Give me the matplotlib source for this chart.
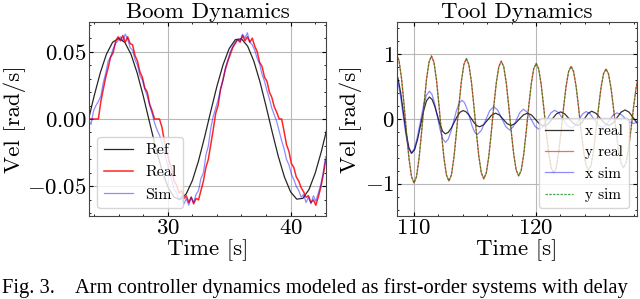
import numpy as np
import matplotlib.pyplot as plt
from matplotlib.ticker import AutoMinorLocator

plt.rcParams['font.family'] = 'serif'
plt.rcParams['font.serif'] = ['cmr10']
plt.rcParams['mathtext.fontset'] = 'cm'
plt.rcParams['axes.formatter.use_mathtext'] = True

# ---- Boom dynamics (left) ----
t_ref = np.arange(23.5, 43.01, 0.5)
v_ref = [-0.0019, 0.0171, 0.0343, 0.0481, 0.0569, 0.0600, 0.0569, 0.0481, 0.0343, 0.0171,
         -0.0019, -0.0207, -0.0374, -0.0503, -0.0580, -0.0599, -0.0556, -0.0457, -0.0311, -0.0133,
         0.0058, 0.0243, 0.0403, 0.0523, 0.0589, 0.0595, 0.0541, 0.0431, 0.0278, 0.0096,
         -0.0096, -0.0278, -0.0431, -0.0541, -0.0595, -0.0589, -0.0523, -0.0403, -0.0243, -0.0057]

t_meas = np.linspace(23.55, 42.85, 98)
v_real = [0.0, 0.0, 0.0, 0.0, 0.0, 0.013, 0.022, 0.031, 0.038, 0.046,
          0.049, 0.057, 0.061, 0.058, 0.062, 0.057, 0.061, 0.056, 0.055, 0.047,
          0.043, 0.035, 0.031, 0.023, 0.020, 0.011, 0.006, 0.0, 0.0, 0.0,
          -0.006, -0.016, -0.024, -0.031, -0.037, -0.046, -0.049, -0.055, -0.053, -0.059,
          -0.057, -0.062, -0.058, -0.063, -0.059, -0.060, -0.053, -0.046, -0.036, -0.030,
          -0.019, -0.008, 0.004, 0.010, 0.022, 0.029, 0.037, 0.043, 0.048, 0.053,
          0.056, 0.059, 0.057, 0.062, 0.058, 0.061, 0.057, 0.060, 0.054, 0.050,
          0.042, 0.039, 0.031, 0.028, 0.020, 0.016, 0.009, 0.005, 0.0, 0.0,
          -0.009, -0.019, -0.024, -0.033, -0.036, -0.043, -0.046, -0.051, -0.054, -0.058,
          -0.057, -0.062, -0.060, -0.064, -0.058, -0.051, -0.042, -0.031]
v_sim = [-0.001, -0.004, 0.006, 0.010, 0.013, 0.017, 0.027, 0.034, 0.043, 0.046,
         0.052, 0.056, 0.058, 0.061, 0.058, 0.063, 0.059, 0.053, 0.051, 0.044,
         0.040, 0.032, 0.029, 0.022, 0.017, 0.010, 0.004, -0.003, -0.008, -0.012,
         -0.017, -0.025, -0.032, -0.039, -0.045, -0.052, -0.055, -0.060, -0.057, -0.063,
         -0.059, -0.064, -0.058, -0.062, -0.056, -0.053, -0.044, -0.040, -0.027, -0.020,
         -0.007, 0.002, 0.008, 0.014, 0.022, 0.029, 0.038, 0.044, 0.050, 0.054,
         0.057, 0.059, 0.058, 0.063, 0.060, 0.064, 0.057, 0.055, 0.051, 0.045,
         0.041, 0.033, 0.028, 0.021, 0.015, 0.008, 0.003, -0.002, -0.009, -0.016,
         -0.022, -0.030, -0.034, -0.041, -0.045, -0.050, -0.053, -0.058, -0.056, -0.062,
         -0.058, -0.063, -0.057, -0.061, -0.055, -0.049, -0.040, -0.028]

# ---- Tool dynamics (right) ----
t_y = np.linspace(108.615, 128.361, 98)
y_real = [1.0, 0.901, 0.624, 0.223, -0.220, -0.617, -0.892, -0.99, -0.892, -0.617,
          -0.220, 0.217, 0.608, 0.878, 0.975, 0.878, 0.608, 0.217, -0.214, -0.599,
          -0.865, -0.96, -0.865, -0.599, -0.214, 0.208, 0.583, 0.842, 0.935, 0.842,
          0.583, 0.208, -0.206, -0.577, -0.833, -0.925, -0.833, -0.577, -0.206, 0.199,
          0.558, 0.806, 0.895, 0.806, 0.558, 0.199, -0.196, -0.549, -0.793, -0.88,
          -0.793, -0.549, -0.196, 0.191, 0.536, 0.775, 0.86, 0.775, 0.536, 0.191,
          -0.187, -0.524, -0.757, -0.84, -0.757, -0.524, -0.187, 0.181, 0.508, 0.734,
          0.815, 0.734, 0.508, 0.181, -0.177, -0.496, -0.716, -0.795, -0.716, -0.496,
          -0.177, 0.172, 0.483, 0.698, 0.775, 0.698, 0.483, 0.172, -0.168, -0.471,
          -0.680, -0.755, -0.680, -0.471, -0.168, 0.165, 0.461, 0.667]
y_sim = list(y_real)  # sim and real y traces coincide in the figure

t_xr = [108.5, 108.725, 108.95, 109.175, 109.4, 109.625, 109.85,
        110.092, 110.333, 110.575, 110.817, 111.058, 111.3,
        111.517, 111.733, 111.95, 112.167, 112.383, 112.6,
        112.842, 113.083, 113.325, 113.567, 113.808, 114.05,
        114.275, 114.5, 114.725, 114.95, 115.175, 115.4,
        115.725, 116.05, 116.375, 116.7, 117.013, 117.325, 117.638, 117.95,
        118.288, 118.625, 118.963, 119.3, 119.638, 119.975, 120.313, 120.65,
        120.988, 121.325, 121.663, 122.0, 122.35, 122.7, 123.05, 123.4,
        123.688, 123.975, 124.263, 124.55, 124.9, 125.25, 125.6, 125.95,
        126.28, 126.61, 126.94, 127.27, 127.603, 127.935, 128.268, 128.6]
x_real = [0.72, 0.636, 0.408, 0.095, -0.218, -0.446, -0.53,
          -0.472, -0.313, -0.095, 0.123, 0.282, 0.34,
          0.302, 0.198, 0.055, -0.088, -0.192, -0.23,
          -0.206, -0.14, -0.05, 0.04, 0.106, 0.13,
          0.113, 0.068, 0.005, -0.058, -0.103, -0.12,
          -0.089, -0.015, 0.059, 0.09, 0.062, -0.005, -0.072, -0.10,
          -0.072, -0.005, 0.062, 0.09, 0.061, -0.01, -0.081, -0.11,
          -0.078, 0.0, 0.078, 0.11, 0.079, 0.005, -0.069, -0.10,
          -0.068, 0.01, 0.088, 0.12, 0.088, 0.01, -0.068, -0.10,
          -0.065, 0.02, 0.105, 0.14, 0.105, 0.02, -0.065, -0.10]

t_xs = [108.5, 108.717, 108.933, 109.15, 109.367, 109.583, 109.8,
        110.05, 110.3, 110.55, 110.8, 111.05, 111.3,
        111.517, 111.733, 111.95, 112.167, 112.383, 112.6,
        112.825, 113.05, 113.275, 113.5, 113.725, 113.95,
        114.158, 114.367, 114.575, 114.783, 114.992, 115.2,
        115.538, 115.875, 116.213, 116.55, 116.875, 117.2, 117.525, 117.85,
        118.13, 118.41, 118.69, 118.97, 119.29, 119.61, 119.93, 120.25,
        120.568, 120.885, 121.203, 121.52, 121.865, 122.21, 122.555, 122.9,
        123.2, 123.5, 123.8, 124.1, 124.425, 124.75, 125.075, 125.4,
        125.7, 126.0, 126.3, 126.6, 126.938, 127.275, 127.613, 127.95,
        128.263, 128.575]
x_sim = [0.66, 0.58, 0.363, 0.065, -0.233, -0.45, -0.53,
         -0.466, -0.29, -0.05, 0.19, 0.366, 0.43,
         0.377, 0.233, 0.035, -0.163, -0.307, -0.36,
         -0.316, -0.198, -0.035, 0.128, 0.246, 0.29,
         0.254, 0.158, 0.025, -0.108, -0.204, -0.24,
         -0.177, -0.025, 0.127, 0.19, 0.137, 0.01, -0.117, -0.17,
         -0.123, -0.01, 0.103, 0.15, 0.105, -0.005, -0.115, -0.16,
         -0.117, -0.013, 0.092, 0.135, 0.095, -0.003, -0.1, -0.14,
         -0.103, -0.013, 0.078, 0.115, 0.079, -0.008, -0.094, -0.13,
         -0.097, -0.018, 0.062, 0.095, 0.071, 0.013, -0.046, -0.07,
         -0.048, 0.005]

fig = plt.figure(figsize=(6.4, 2.99), dpi=100)
ax1 = fig.add_axes([0.1398, 0.2776, 0.3695, 0.6488])
ax2 = fig.add_axes([0.6203, 0.2776, 0.3745, 0.6488])

ax1.plot(t_ref, v_ref, color='k', lw=0.9, alpha=0.85, label='Ref')
ax1.plot(t_meas, v_real, color='r', lw=1.1, alpha=0.85, label='Real')
ax1.plot(t_meas, v_sim, color='b', lw=0.9, alpha=0.45, label='Sim')
ax1.set_xlim(23.62, 42.88)
ax1.set_ylim(-0.072, 0.072)
ax1.set_yticks([-0.05, 0.0, 0.05])
ax1.set_xticks([30, 40])
ax1.set_title('Boom Dynamics', fontsize=16.5, pad=3)
ax1.set_xlabel('Time [s]', fontsize=16.5, labelpad=1)
ax1.set_ylabel('Vel [rad/s]', fontsize=16.5, labelpad=1)
ax1.legend(loc='lower left', fontsize=11.5, framealpha=0.8, handlelength=1.8)

ax2.plot(t_xr, x_real, color='k', lw=0.9, alpha=0.8, label='x real')
ax2.plot(t_y, y_real, color='r', lw=0.9, alpha=0.6, label='y real')
ax2.plot(t_xs, x_sim, color='b', lw=0.9, alpha=0.45, label='x sim')
ax2.plot(t_y, y_sim, color='g', lw=0.9, alpha=0.7, ls=(0, (2, 1)), label='y sim')
ax2.set_xlim(108.65, 128.22)
ax2.set_ylim(-1.5, 1.5)
ax2.set_yticks([-1, 0, 1])
ax2.set_xticks([110, 120])
ax2.set_title('Tool Dynamics', fontsize=16.5, pad=3)
ax2.set_xlabel('Time [s]', fontsize=16.5, labelpad=1)
ax2.set_ylabel('Vel [rad/s]', fontsize=16.5, labelpad=2)
ax2.legend(loc='lower right', fontsize=11, framealpha=0.8, handlelength=1.8)

for ax in (ax1, ax2):
    ax.xaxis.set_minor_locator(AutoMinorLocator())
    ax.yaxis.set_minor_locator(AutoMinorLocator())
    ax.tick_params(which='both', direction='in', top=True, right=True, labelsize=16.5, pad=2)
    ax.tick_params(which='major', length=3)
    ax.tick_params(which='minor', length=1.5)
    ax.grid(True, which='major', color='#b8b8b8', lw=0.8)
    for s in ax.spines.values():
        s.set_color('#444444')

fig.text(2 / 640, 0.019, 'Fig. 3.', family='Liberation Serif', fontsize=14.8, va='baseline')
fig.text(75 / 640, 0.019, 'Arm controller dynamics modeled as first-order systems with delay',
         family='Liberation Serif', fontsize=14.8, va='baseline')

fig.savefig('out.png', dpi=100)
